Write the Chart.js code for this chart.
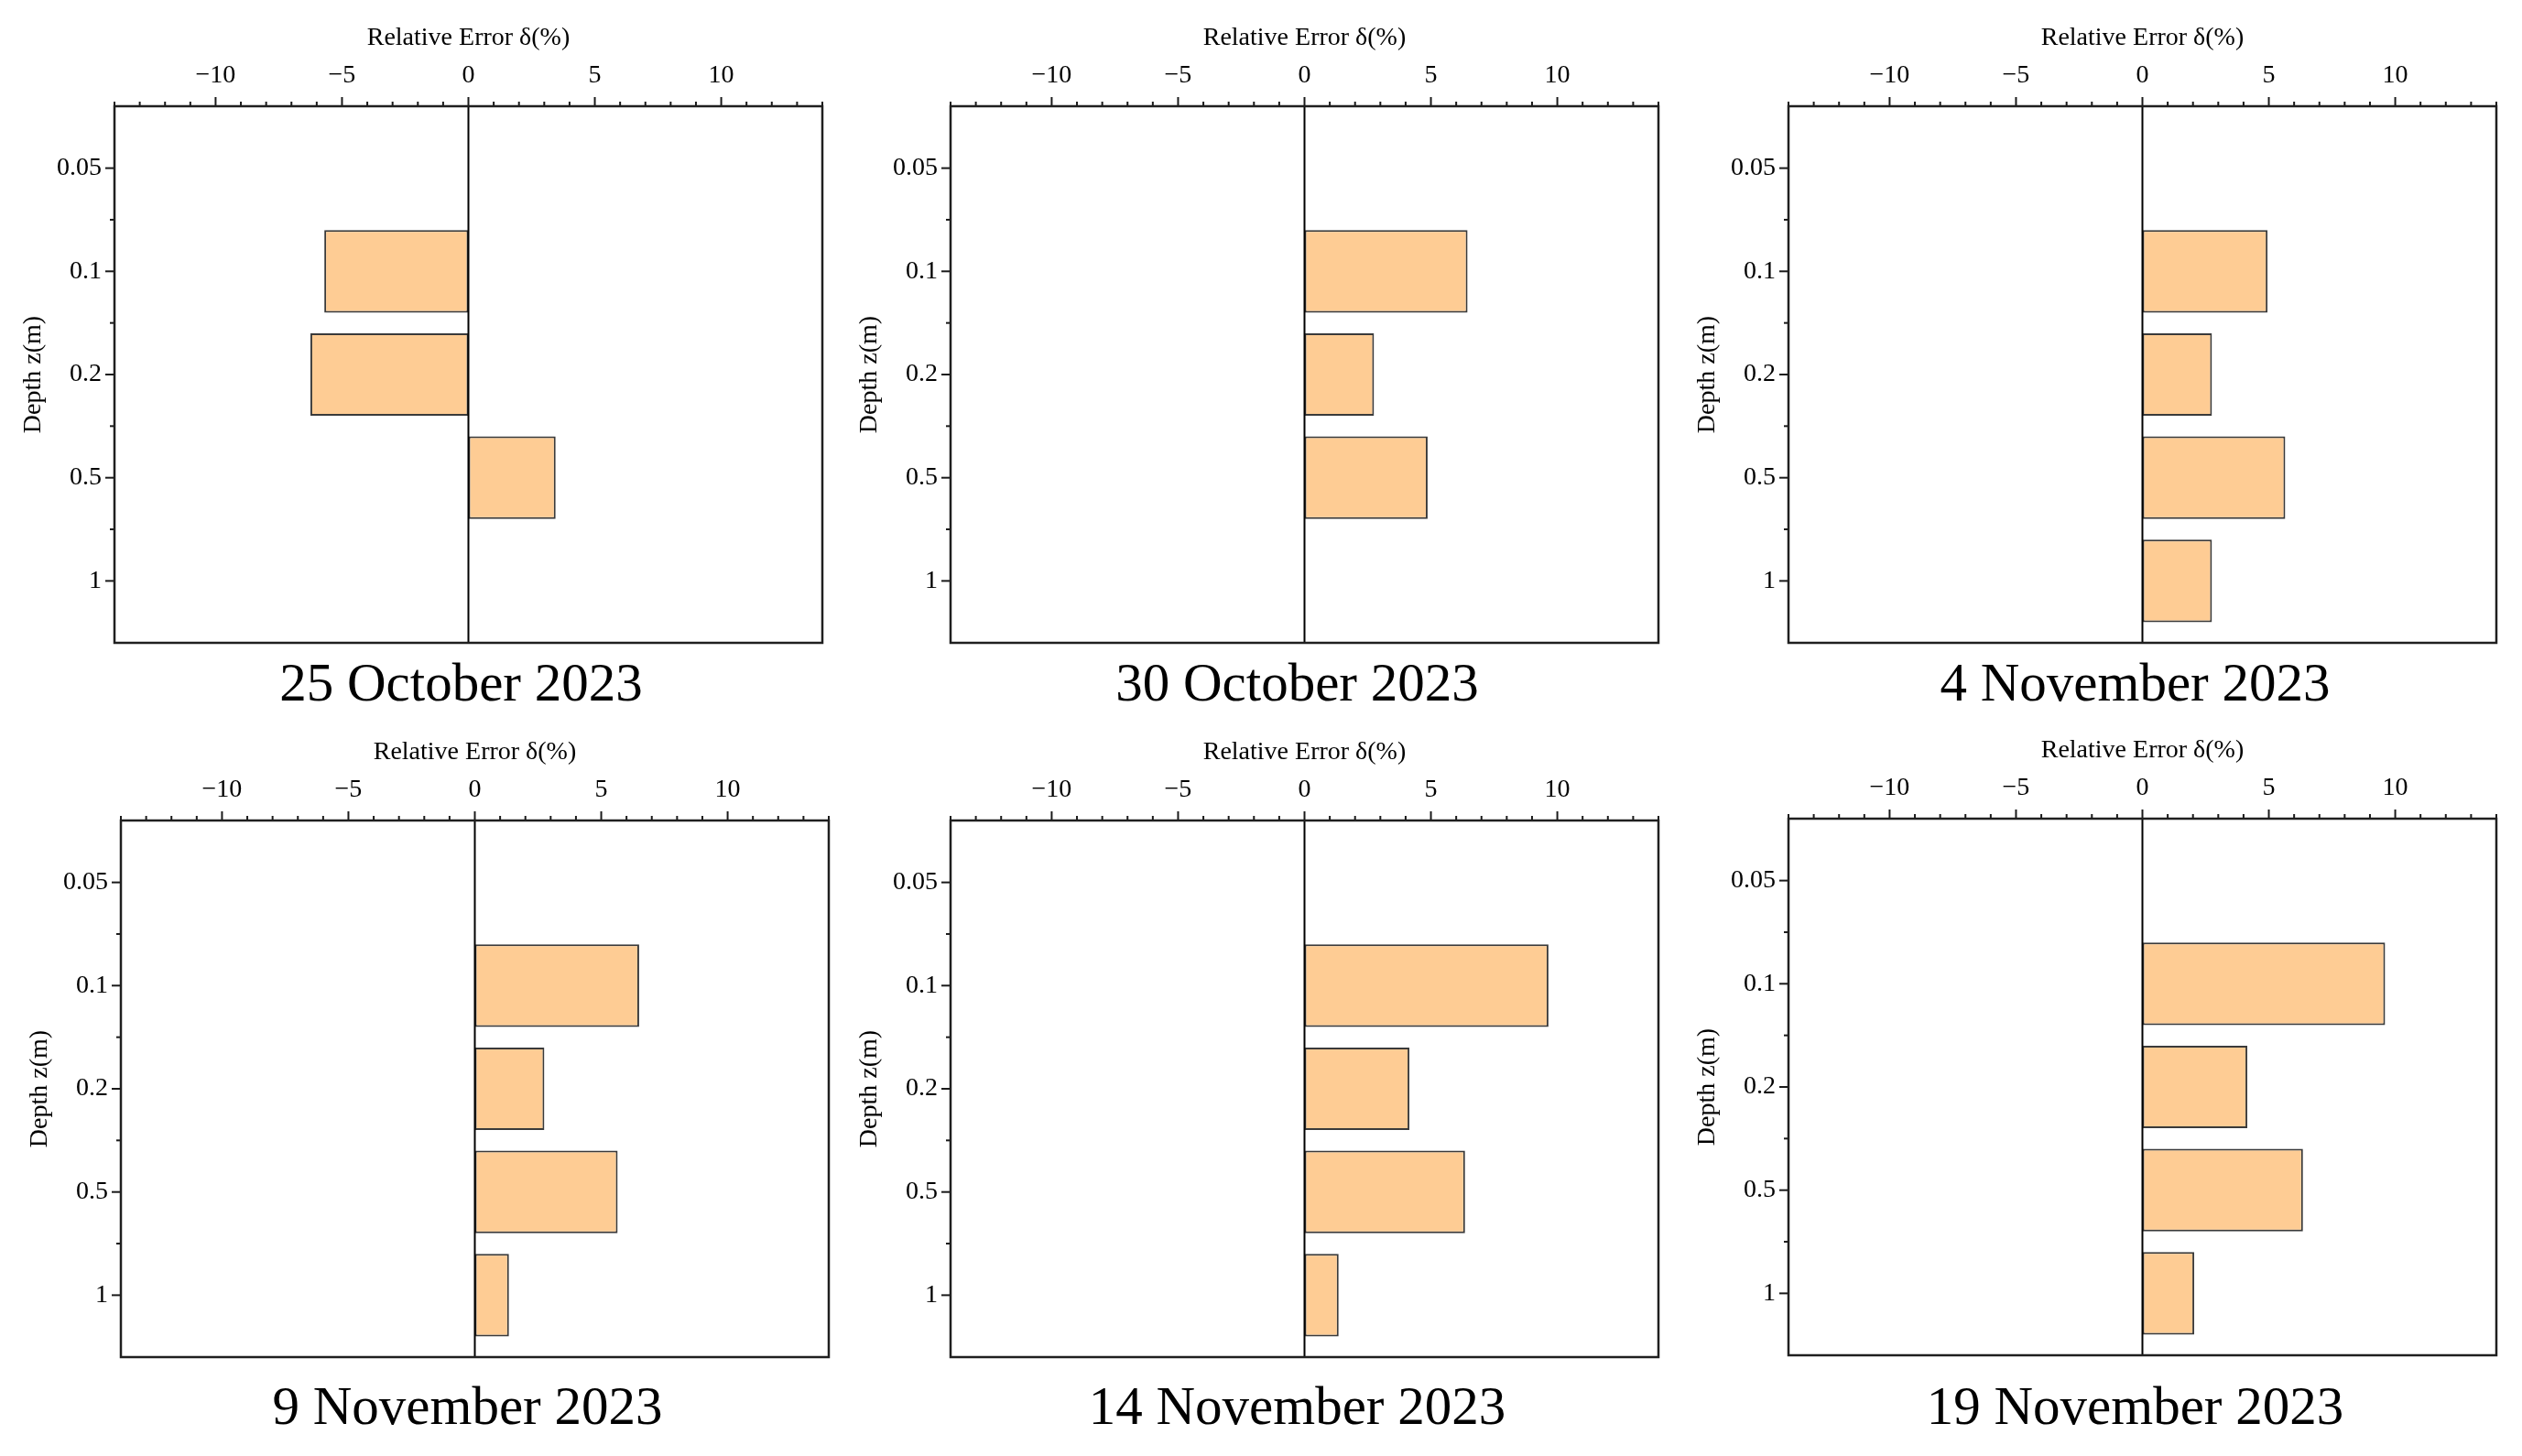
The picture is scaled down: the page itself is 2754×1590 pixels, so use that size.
<!DOCTYPE html>
<html>
<head>
<meta charset="utf-8">
<script src="https://cdn.jsdelivr.net/npm/chart.js@4.4.0/dist/chart.umd.min.js"></script>
<style>
  body { margin: 0; background: #fff; }
  #page { position: relative; width: 2754px; height: 1590px; overflow: hidden; background: #fff; }
  #page canvas { position: absolute; }
  .caption {
    position: absolute; width: 800px; text-align: center;
    font-family: 'Liberation Serif', 'Times New Roman', serif;
    font-size: 59px; line-height: 59px; color: #000; white-space: nowrap;
  }
</style>
</head>
<body>
<div id="page"></div>
<script>
// depth categories (top to bottom) and x tick values
const depthLabels = ['0.05', '0.1', '0.2', '0.5', '1'];
const errorTicks = [-10, -5, 0, 5, 10];
const dates = ['25 October 2023', '30 October 2023', '4 November 2023',
               '9 November 2023', '14 November 2023', '19 November 2023'];

// relative error δ(%) per depth, null = no bar
const err25Oct = [null, -5.7, -6.25, 3.45, null];
const err30Oct = [null, 6.45, 2.75, 4.87, null];
const err4Nov  = [null, 4.95, 2.75, 5.65, 2.75];
const err9Nov  = [null, 6.5, 2.75, 5.65, 1.35];
const err14Nov = [null, 9.65, 4.15, 6.35, 1.35];
const err19Nov = [null, 9.6, 4.15, 6.35, 2.05];
const panelErrors = [err25Oct, err30Oct, err4Nov, err9Nov, err14Nov, err19Nov];

// where each plot frame sits on the page
const frames = [
  {left: 125, top: 116, capY: 745},
  {left: 1038, top: 116, capY: 745},
  {left: 1953, top: 116, capY: 745},
  {left: 132, top: 896, capY: 1535},
  {left: 1038, top: 896, capY: 1535},
  {left: 1953, top: 894, capY: 1535}
];
const frameW = 773, frameH = 586;
const leftSpace = 125, topSpace = 116, padRight = 15, padBottom = 6;

Chart.defaults.font.family = "'Liberation Serif', 'Times New Roman', serif";
Chart.defaults.color = '#000';

const framePlugin = {
  id: 'frame',
  afterDraw(chart) {
    const {ctx, chartArea: a} = chart;
    const xs = chart.scales.x, ys = chart.scales.y;
    const line = (x1, y1, x2, y2) => {
      ctx.beginPath(); ctx.moveTo(x1, y1); ctx.lineTo(x2, y2); ctx.stroke();
    };
    ctx.save();
    ctx.strokeStyle = '#1a1a1a';
    ctx.lineWidth = 2;
    // top axis ticks, major every 5, minor every 1
    for (let v = Math.ceil(xs.min); v <= xs.max; v++) {
      const px = xs.getPixelForValue(v);
      line(px, a.top, px, a.top - (v % 5 === 0 ? 10 : 5));
    }
    // left axis ticks
    for (let i = 0; i < depthLabels.length; i++) {
      const py = ys.getPixelForValue(i);
      line(a.left, py, a.left - 10, py);
      if (i < depthLabels.length - 1) {
        const pm = ys.getPixelForValue(i + 0.5);
        line(a.left, pm, a.left - 5, pm);
      }
    }
    // zero line
    ctx.strokeStyle = '#000';
    const x0 = xs.getPixelForValue(0);
    line(x0, a.top, x0, a.bottom);
    // frame
    ctx.strokeStyle = '#1f1f1f';
    ctx.lineWidth = 2.5;
    ctx.strokeRect(a.left, a.top, a.right - a.left, a.bottom - a.top);
    ctx.restore();
  }
};

function noPad(s) {
  s.paddingTop = 0; s.paddingBottom = 0; s.paddingLeft = 0; s.paddingRight = 0;
}

function makePanel(idx) {
  const f = frames[idx];
  const page = document.getElementById('page');
  const canvas = document.createElement('canvas');
  canvas.width = leftSpace + frameW + padRight;
  canvas.height = topSpace + frameH + padBottom;
  canvas.style.left = (f.left - leftSpace) + 'px';
  canvas.style.top = (f.top - topSpace) + 'px';
  page.appendChild(canvas);

  const points = [];
  panelErrors[idx].forEach((v, i) => { if (v !== null) points.push({x: v, y: i}); });

  new Chart(canvas, {
    type: 'bar',
    data: {
      datasets: [{
        data: points,
        backgroundColor: '#FECC94',
        borderColor: '#3a3a3a',
        borderWidth: 2,
        borderSkipped: false,
        barPercentage: 0.8,
        categoryPercentage: 1.0
      }]
    },
    plugins: [framePlugin],
    options: {
      indexAxis: 'y',
      responsive: false,
      animation: false,
      layout: {padding: {left: 0, top: 0, right: padRight, bottom: padBottom}},
      plugins: {legend: {display: false}, tooltip: {enabled: false}},
      scales: {
        x: {
          type: 'linear',
          position: 'top',
          min: -14, max: 14,
          offset: false,
          grid: {display: false, drawTicks: false},
          border: {display: false},
          afterBuildTicks: s => { s.ticks = errorTicks.map(v => ({value: v})); },
          afterFit: s => { s.height = topSpace; noPad(s); },
          ticks: {
            padding: 17,
            font: {size: 28},
            color: '#000',
            callback: v => v < 0 ? '\u2212' + Math.abs(v) : String(v)
          },
          title: {
            display: true,
            text: 'Relative Error δ(%)',
            font: {size: 28},
            color: '#000',
            padding: {top: 25, bottom: 0}
          }
        },
        y: {
          type: 'linear',
          reverse: true,
          min: -0.6, max: 4.6,
          offset: false,
          grid: {display: false, drawTicks: false, offset: false},
          border: {display: false},
          afterBuildTicks: s => { s.ticks = depthLabels.map((d, i) => ({value: i})); },
          afterFit: s => { s.width = leftSpace; noPad(s); },
          ticks: {
            padding: 14,
            font: {size: 28},
            color: '#000',
            callback: v => depthLabels[v]
          },
          title: {
            display: true,
            text: 'Depth z(m)',
            font: {size: 28},
            color: '#000',
            padding: {top: 20, bottom: 0}
          }
        }
      }
    }
  });

  const cap = document.createElement('div');
  cap.className = 'caption';
  cap.textContent = dates[idx];
  cap.style.left = (f.left + frameW / 2 - 8 - 400) + 'px';
  cap.style.top = (f.capY - 29.5) + 'px';
  page.appendChild(cap);
}

for (let i = 0; i < dates.length; i++) makePanel(i);
</script>
</body>
</html>
